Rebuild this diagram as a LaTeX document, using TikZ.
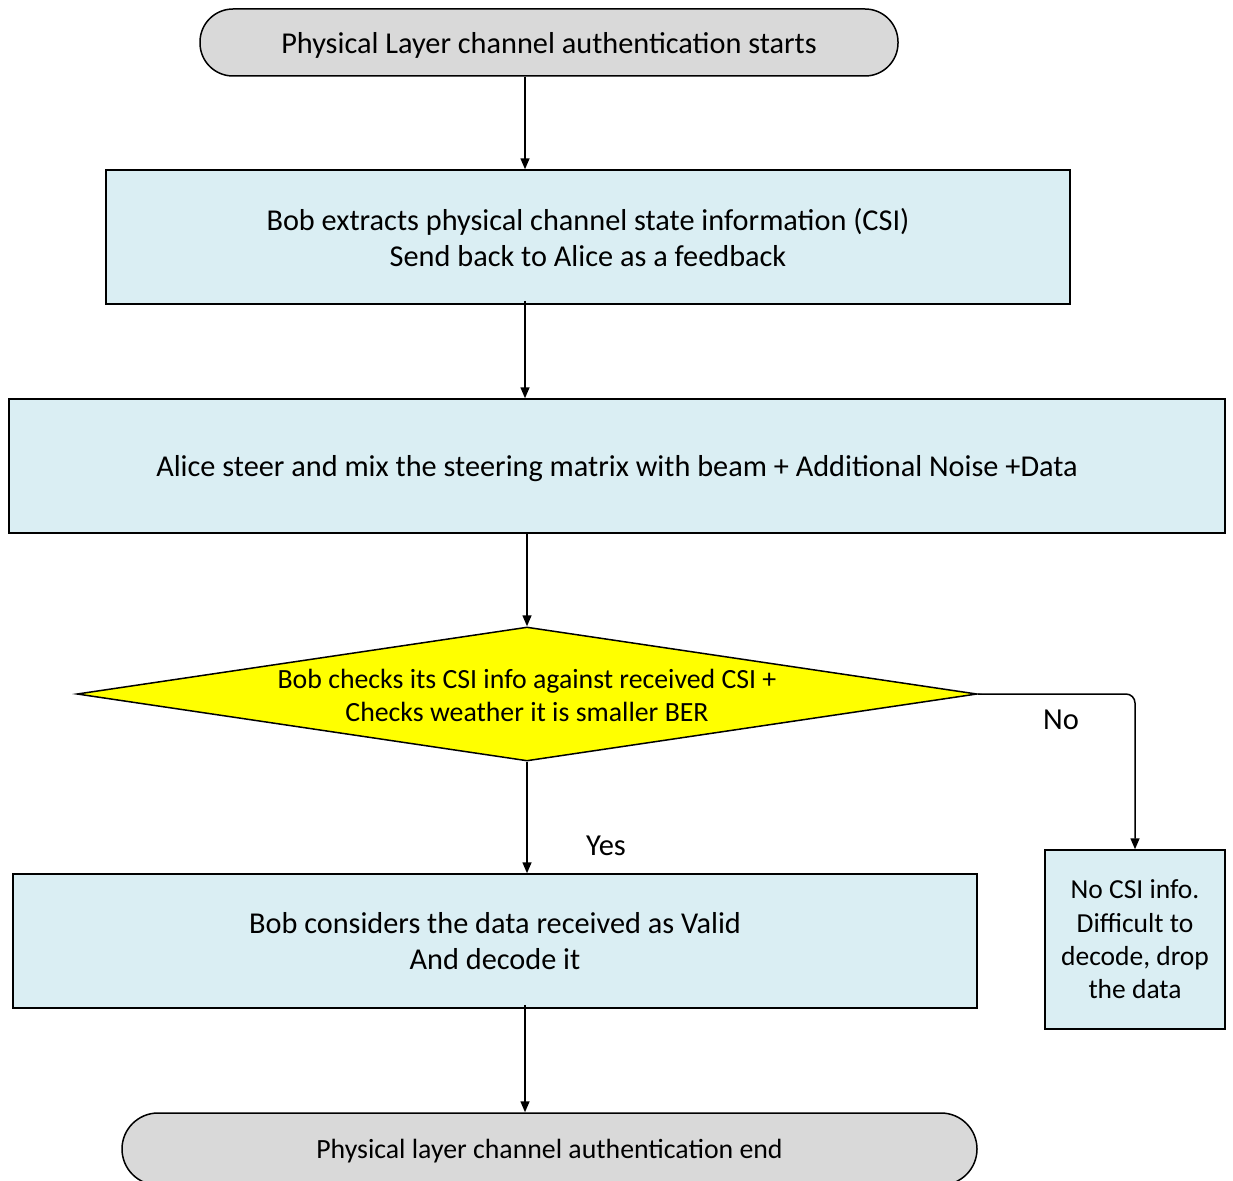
\documentclass[tikz,border=0pt]{standalone}
\usepackage{fontspec}
\setmainfont{Carlito}
\usetikzlibrary{arrows.meta,shapes.geometric}
\definecolor{termfill}{HTML}{D9D9D9}
\definecolor{procfill}{HTML}{DAEEF3}
\definecolor{decfill}{HTML}{FFFF00}
\begin{document}
\begin{tikzpicture}[x=1pt,y=-1pt,
  base/.style={draw=black,line width=1.5pt,inner sep=0pt,align=center,
    text depth=0pt,font=\fontsize{30.3}{36}\selectfont},
  term/.style={base,fill=termfill,rounded corners=33pt,minimum height=67pt},
  proc/.style={base,fill=procfill,rounded corners=0pt},
  dec/.style={draw=black,line width=1.5pt,fill=decfill,diamond,inner sep=0pt},
  arr/.style={line width=1.5pt,-{Triangle[length=11pt,width=9pt]}},
  lbl/.style={font=\fontsize{30.5}{36}\selectfont}]
\useasboundingbox (0,0) rectangle (1233,1180);
\clip (0,0) rectangle (1233,1180);
\fill[white] (0,0) rectangle (1233,1180);

% column of the main vertical connectors
\coordinate (ax) at (525,0);
\coordinate (dx) at (527,0);

\node[term,minimum width=698pt] (start) at (549,42.5)
  {Physical Layer channel authentication starts};
\node[proc,minimum width=964pt,minimum height=134pt] (extract) at (588,237)
  {Bob extracts physical channel state information (CSI)\\Send back to Alice as a feedback};
\node[proc,minimum width=1216pt,minimum height=134pt] (steer) at (617,466)
  {Alice steer and mix the steering matrix with beam + Additional Noise +Data};
\node[dec,minimum width=900pt,minimum height=134pt] (check) at (527,694) {};
\node[align=center,font=\fontsize{27.8}{33}\selectfont] (checktxt) at (527,695)
  {Bob checks its CSI info against received CSI +\\Checks weather it is smaller BER};
\node[proc,minimum width=964pt,minimum height=134pt] (valid) at (495,941)
  {Bob considers the data received as Valid\\And decode it};
\node[proc,minimum width=180pt,minimum height=179pt,text depth=,
  font=\fontsize{27.5}{33.3}\selectfont] (drop) at (1135,939.5)
  {No CSI info.\\Difficult to\\decode, drop\\the data};
\node[term,minimum width=855pt,minimum height=72pt,rounded corners=36pt,
  font=\fontsize{27.8}{33}\selectfont] (end) at (549.5,1149)
  {Physical layer channel authentication end};

\draw[arr] (ax |- start.south) -- (ax |- extract.north);
\draw[arr] ([yshift=4pt]ax |- extract.south) -- (ax |- steer.north);
\draw[arr] (dx |- steer.south) -- (check.north);
\draw[arr] (check.south) -- (dx |- valid.north);
\draw[arr] ([yshift=4pt]ax |- valid.south) -- (ax |- end.north);
\draw[arr,rounded corners=9pt] (check.east) -| (drop.north);

\node[lbl] (no) at (1061,720) {No};
\node[lbl] (yes) at (606,846) {Yes};
\end{tikzpicture}
\end{document}
